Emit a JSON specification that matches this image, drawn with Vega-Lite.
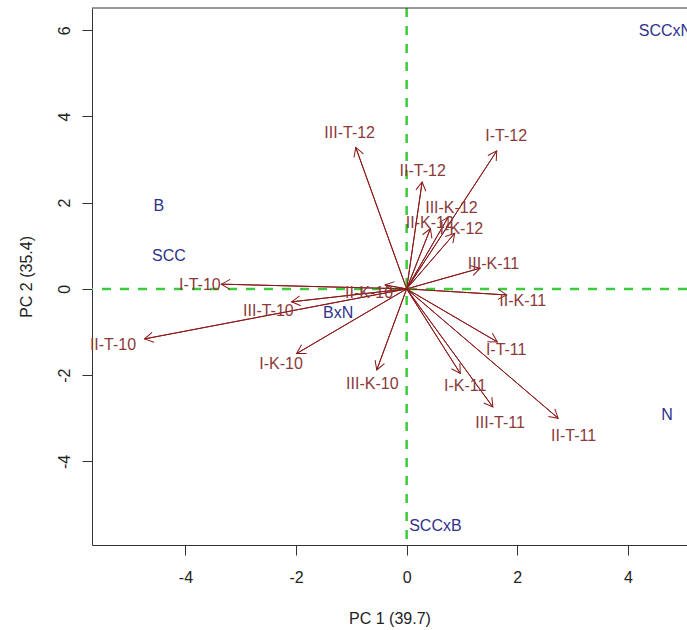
{
  "$schema": "https://vega.github.io/schema/vega-lite/v6.json",
  "width": 595,
  "height": 537,
  "autosize": "none",
  "padding": {"left": 92, "top": 8, "right": 0, "bottom": 85},
  "background": "white",
  "config": {
    "view": {"stroke": null},
    "font": "Liberation Sans",
    "axis": {
      "grid": false,
      "domainColor": "#333333",
      "domainWidth": 1,
      "tickColor": "#333333",
      "tickSize": 10,
      "labelColor": "#222222",
      "titleColor": "#222222",
      "labelFont": "Liberation Sans",
      "titleFont": "Liberation Sans",
      "labelFontSize": 16,
      "titleFontSize": 16,
      "titleFontWeight": "normal",
      "labelFlush": false,
      "labelOverlap": false,
      "labelExpr": "datum.value < 0 ? '-' + abs(datum.value) : '' + datum.value"
    },
    "axisX": {
      "labelPadding": 27,
      "labelBaseline": "alphabetic",
      "titleBaseline": "alphabetic",
      "titleY": 78.7
    },
    "axisY": {
      "labelAngle": 270,
      "labelAlign": "center",
      "labelBaseline": "alphabetic",
      "labelPadding": 13,
      "titleAngle": 270,
      "titleAlign": "center",
      "titleBaseline": "alphabetic",
      "titleX": -60.6,
      "titleY": 268.4
    }
  },
  "datasets": {
    "vars": [
      {"name": "III-T-12", "x": -0.92, "y": 3.28, "lx": -1.03, "ly": 3.62},
      {"name": "I-T-12", "x": 1.63, "y": 3.20, "lx": 1.80, "ly": 3.55},
      {"name": "II-T-12", "x": 0.28, "y": 2.48, "lx": 0.29, "ly": 2.74},
      {"name": "III-K-12", "x": 0.75, "y": 1.66, "lx": 0.81, "ly": 1.87},
      {"name": "II-K-12", "x": 0.43, "y": 1.40, "lx": 0.42, "ly": 1.53},
      {"name": "I-K-12", "x": 0.87, "y": 1.29, "lx": 0.99, "ly": 1.40},
      {"name": "III-K-11", "x": 1.33, "y": 0.48, "lx": 1.57, "ly": 0.58},
      {"name": "II-K-11", "x": 1.81, "y": -0.14, "lx": 2.10, "ly": -0.28},
      {"name": "I-T-11", "x": 1.64, "y": -1.23, "lx": 1.80, "ly": -1.42},
      {"name": "I-K-11", "x": 0.97, "y": -1.96, "lx": 1.06, "ly": -2.26},
      {"name": "III-T-11", "x": 1.56, "y": -2.74, "lx": 1.69, "ly": -3.11},
      {"name": "II-T-11", "x": 2.74, "y": -3.00, "lx": 3.02, "ly": -3.42},
      {"name": "I-T-10", "x": -3.35, "y": 0.11, "lx": -3.74, "ly": 0.09},
      {"name": "II-T-10", "x": -4.74, "y": -1.16, "lx": -5.31, "ly": -1.30},
      {"name": "III-T-10", "x": -2.08, "y": -0.30, "lx": -2.50, "ly": -0.51},
      {"name": "II-K-10", "x": -0.39, "y": 0.09, "lx": -0.68, "ly": -0.10},
      {"name": "I-K-10", "x": -1.99, "y": -1.50, "lx": -2.27, "ly": -1.74},
      {"name": "III-K-10", "x": -0.54, "y": -1.88, "lx": -0.62, "ly": -2.21}
    ],
    "obs": [
      {"name": "B", "x": -4.48, "y": 1.92},
      {"name": "SCC", "x": -4.30, "y": 0.76},
      {"name": "BxN", "x": -1.24, "y": -0.55},
      {"name": "SCCxN", "x": 4.68, "y": 5.97},
      {"name": "N", "x": 4.71, "y": -2.93},
      {"name": "SCCxB", "x": 0.52, "y": -5.50}
    ]
  },
  "layer": [
    {
      "data": {"name": "vars"},
      "mark": {"type": "rule", "color": "#8B1A1A", "strokeWidth": 1},
      "encoding": {
        "x": {"field": "x", "type": "quantitative", "title": "PC 1 (39.7)",
              "scale": {"domain": [-5.69, 5.07], "nice": false, "zero": false},
              "axis": {"values": [-4, -2, 0, 2, 4]}},
        "y": {"field": "y", "type": "quantitative", "title": "PC 2 (35.4)",
              "scale": {"domain": [-5.94, 6.515], "nice": false, "zero": false},
              "axis": {"values": [-4, -2, 0, 2, 4, 6]}},
        "x2": {"datum": 0},
        "y2": {"datum": 0}
      }
    },
    {
      "data": {"values": [{"v": 0}]},
      "mark": {"type": "rule", "color": "#3CCB3C", "strokeWidth": 2.5, "strokeDash": [9, 9]},
      "encoding": {"x": {"datum": 0, "type": "quantitative"}}
    },
    {
      "data": {"values": [{"v": 0}]},
      "mark": {"type": "rule", "color": "#3CCB3C", "strokeWidth": 2.5, "strokeDash": [9, 9]},
      "encoding": {"y": {"datum": 0, "type": "quantitative"}}
    },
    {
      "data": {"values": [{"v": 0}]},
      "mark": {"type": "rule", "color": "#333333", "strokeWidth": 1},
      "encoding": {"y": {"datum": 6.515, "type": "quantitative"}}
    },
    {
      "data": {"name": "vars"},
      "mark": {"type": "rule", "color": "#8B1A1A", "strokeWidth": 1},
      "encoding": {
        "x": {"field": "x", "type": "quantitative", "title": "PC 1 (39.7)"},
        "y": {"field": "y", "type": "quantitative", "title": "PC 2 (35.4)"},
        "x2": {"datum": 0},
        "y2": {"datum": 0}
      }
    },
    {
      "data": {"name": "vars"},
      "transform": [
        {"calculate": "atan2(datum.x * 55.25, datum.y * 43.1) * 180 / PI", "as": "ang"}
      ],
      "mark": {"type": "point", "shape": "M -0.5 0.866 L 0 0 L 0.5 0.866", "filled": false, "color": "#8B1A1A", "strokeWidth": 1, "size": 400, "opacity": 1},
      "encoding": {
        "x": {"field": "x", "type": "quantitative", "title": "PC 1 (39.7)"},
        "y": {"field": "y", "type": "quantitative", "title": "PC 2 (35.4)"},
        "angle": {"field": "ang", "type": "quantitative", "scale": null}
      }
    },
    {
      "data": {"name": "vars"},
      "mark": {"type": "text", "color": "#8B3A3A", "font": "Liberation Sans", "fontSize": 16, "align": "center", "baseline": "middle"},
      "encoding": {
        "x": {"field": "lx", "type": "quantitative", "title": "PC 1 (39.7)"},
        "y": {"field": "ly", "type": "quantitative", "title": "PC 2 (35.4)"},
        "text": {"field": "name"}
      }
    },
    {
      "data": {"name": "obs"},
      "mark": {"type": "text", "color": "#2F318B", "font": "Liberation Sans", "fontSize": 16, "align": "center", "baseline": "middle"},
      "encoding": {
        "x": {"field": "x", "type": "quantitative", "title": "PC 1 (39.7)"},
        "y": {"field": "y", "type": "quantitative", "title": "PC 2 (35.4)"},
        "text": {"field": "name"}
      }
    }
  ]
}
